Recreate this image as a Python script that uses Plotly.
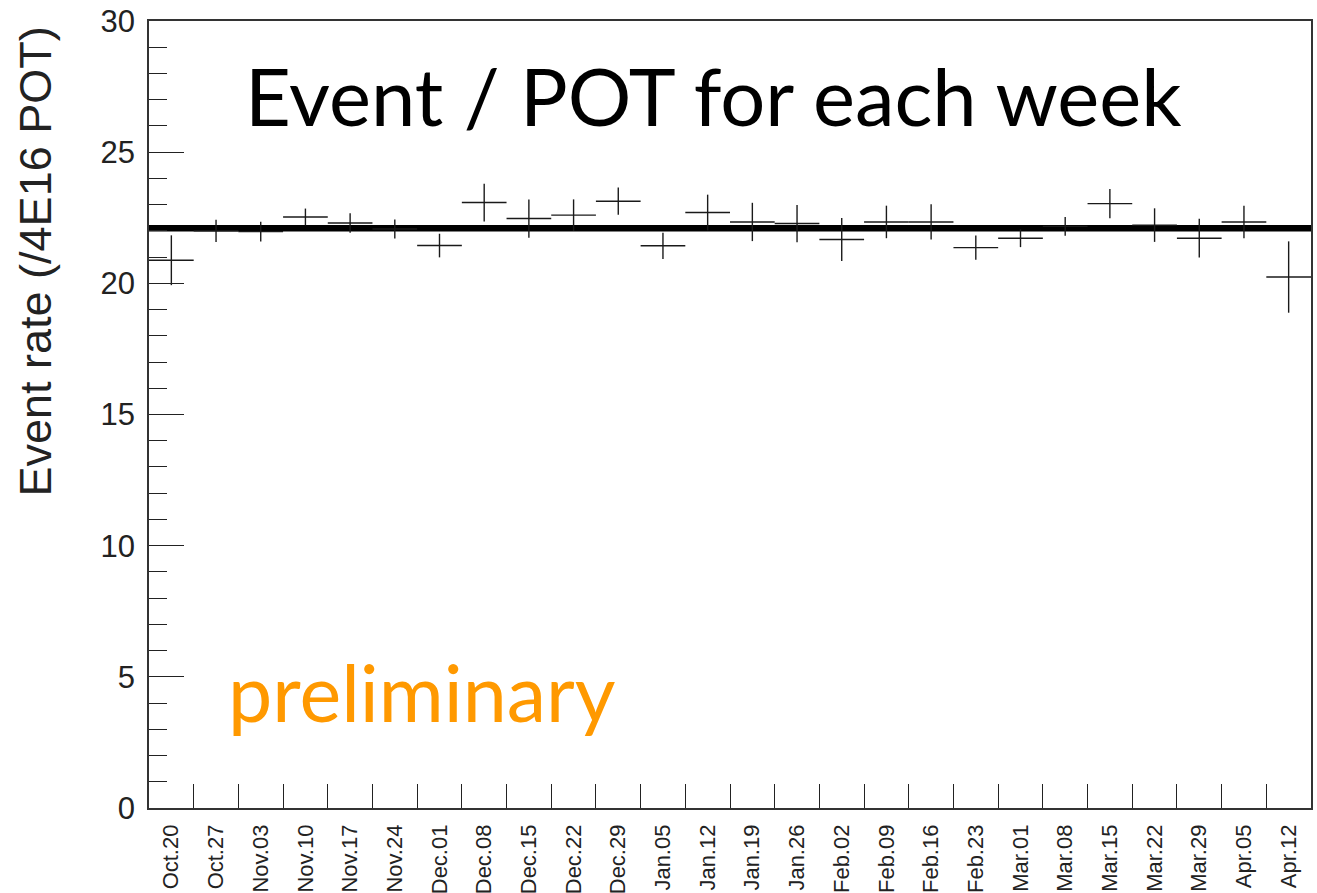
import plotly.graph_objects as go

weeks = ["Oct.20", "Oct.27", "Nov.03", "Nov.10", "Nov.17", "Nov.24", "Dec.01", "Dec.08",
         "Dec.15", "Dec.22", "Dec.29", "Jan.05", "Jan.12", "Jan.19", "Jan.26", "Feb.02",
         "Feb.09", "Feb.16", "Feb.23", "Mar.01", "Mar.08", "Mar.15", "Mar.22", "Mar.29",
         "Apr.05", "Apr.12"]
event_rate = [20.88, 22.00, 21.97, 22.53, 22.30, 22.07, 21.44, 23.08, 22.47, 22.60,
              23.13, 21.43, 22.70, 22.34, 22.28, 21.67, 22.34, 22.34, 21.36, 21.72,
              22.17, 23.04, 22.22, 21.72, 22.34, 20.24]
rate_error = [0.95, 0.42, 0.38, 0.32, 0.37, 0.36, 0.45, 0.72, 0.73, 0.60,
              0.52, 0.50, 0.68, 0.73, 0.71, 0.82, 0.62, 0.67, 0.46, 0.34,
              0.36, 0.56, 0.64, 0.74, 0.62, 1.36]
fit_value = 22.1
y_ticks = [0, 5, 10, 15, 20, 25, 30]

n = len(weeks)
centers = [i + 0.5 for i in range(n)]
edges = list(range(1, n))

fig = go.Figure()

fig.add_trace(go.Scatter(
    x=[0, n], y=[fit_value, fit_value], mode="lines",
    line=dict(color="black", width=6.5), hoverinfo="skip", showlegend=False))

fig.add_trace(go.Scatter(
    x=centers, y=event_rate, mode="markers",
    marker=dict(size=1, color="rgba(0,0,0,0)"),
    error_x=dict(type="constant", value=0.5, width=0, thickness=1.4, color="#1a1a1a"),
    error_y=dict(type="data", array=rate_error, visible=True, width=0, thickness=1.4, color="#1a1a1a"),
    showlegend=False))

fig.update_layout(
    width=1317, height=893,
    margin=dict(l=149, r=6, t=21, b=85),
    paper_bgcolor="white", plot_bgcolor="white",
    showlegend=False,
    xaxis=dict(
        range=[0, n], showgrid=False, zeroline=False, automargin=False,
        tickmode="array", tickvals=centers, ticktext=weeks, tickangle=-90,
        ticks="", ticklabelstandoff=6, ticklabeloverflow="allow",
        tickfont=dict(family="Liberation Sans", size=22, color="#222"),
        showline=True, linecolor="#333", linewidth=1.5, mirror=True,
        minor=dict(tickmode="array", tickvals=edges, ticks="inside", ticklen=24,
                   tickcolor="#222", tickwidth=1.3, showgrid=False),
    ),
    yaxis=dict(
        range=[0, 30], showgrid=False, zeroline=False, automargin=False,
        tickmode="array", tickvals=y_ticks,
        ticks="inside", ticklen=35, tickwidth=1.3, tickcolor="#222",
        ticklabelstandoff=6, ticklabeloverflow="allow",
        tickfont=dict(family="Liberation Sans", size=31, color="#222"),
        showline=True, linecolor="#333", linewidth=1.5, mirror=True,
        minor=dict(dtick=1, tick0=0, ticks="inside", ticklen=18,
                   tickcolor="#222", tickwidth=1.3, showgrid=False),
    ),
    annotations=[
        dict(text="Event rate (/4E16 POT)", textangle=-90, xref="paper", yref="paper",
             x=-0.0981, y=0.6944, xanchor="center", yanchor="middle", showarrow=False,
             font=dict(family="Liberation Sans", size=45, color="#222")),
        dict(text="Event / POT for each week", xref="paper", yref="paper",
             x=0.4862, y=0.905, xanchor="center", yanchor="middle", showarrow=False,
             font=dict(family="Lato", size=79.5, color="black")),
        dict(text="preliminary", xref="paper", yref="paper",
             x=0.0663, y=0.1474, xanchor="left", yanchor="middle", showarrow=False,
             font=dict(family="Lato", size=79, color="#FF9900")),
    ],
)

fig.write_html("out.html", config={"displayModeBar": False},
               post_script="document.body.style.margin='0';")
